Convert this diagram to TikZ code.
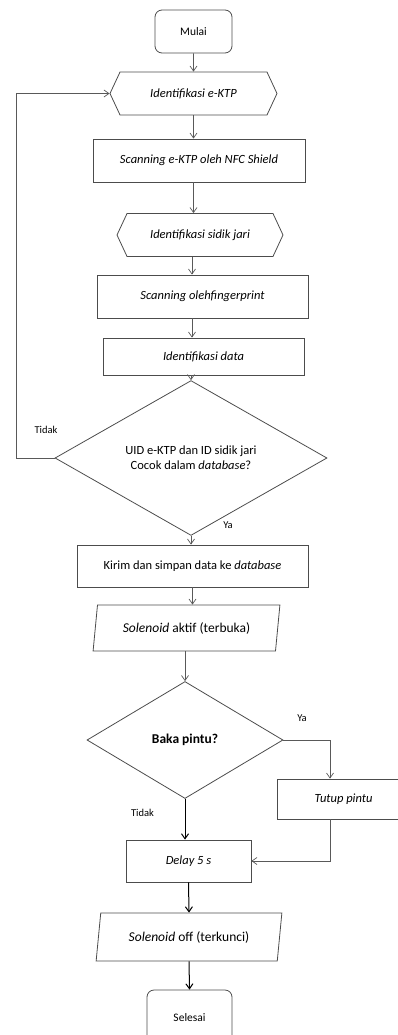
\documentclass[tikz,border=0pt]{standalone}
\usepackage{fontspec}
\setmainfont{Carlito}
\usepackage{tikz}
\usetikzlibrary{shapes,shapes.geometric,shapes.symbols,arrows.meta,positioning,calc}

\begin{document}
\begin{tikzpicture}[x=1pt,y=1pt,
  terminal/.style={rectangle, rounded corners=7pt, draw=black!70, line width=0.8pt, inner sep=0pt, align=center, font=\fontsize{11.5}{13}\selectfont},
  prep/.style={signal, signal to=east and west, signal pointer angle=130, draw=black!70, line width=0.8pt, inner sep=0pt, align=center, font=\fontsize{12.5}{14}\selectfont\itshape},
  process/.style={rectangle, draw=black!70, line width=0.8pt, inner sep=0pt, align=center, font=\fontsize{12.5}{14}\selectfont},
  decision/.style={diamond, draw=black!70, line width=0.8pt, inner sep=0pt, align=center, font=\fontsize{12.5}{15}\selectfont},
  io/.style={trapezium, trapezium left angle=75, trapezium right angle=105, trapezium stretches=true, draw=black!70, line width=0.8pt, inner sep=0pt, align=center, font=\fontsize{13.5}{15}\selectfont},
  flow/.style={-{Straight Barb[length=5pt,width=7pt]}, draw=black!65, line width=0.7pt},
  boldflow/.style={-{Straight Barb[length=5pt,width=7pt]}, draw=black, line width=1pt},
  label/.style={font=\fontsize{10.5}{12}\selectfont, inner sep=0pt}
]
\useasboundingbox (0,0) rectangle (398,-1035);
\clip (0,0) rectangle (398,-1035);

% Nodes
\node[terminal, minimum width=77, minimum height=43] (mulai) at (193.5,-31.5) {Mulai};
\node[prep, minimum width=167, minimum height=43] (idktp) at (193.5,-93.5) {Identifikasi e-KTP};
\node[process, minimum width=212, minimum height=43] (scanktp) at (199,-160.5) {\textit{Scanning e-KTP oleh NFC Shield}};
\node[prep, minimum width=166, minimum height=43] (idjari) at (200,-235) {Identifikasi sidik jari};
\node[process, minimum width=211, minimum height=43] (scanjari) at (202.5,-296.5) {\textit{Scanning olehfingerprint}};
\node[process, minimum width=201, minimum height=37] (iddata) at (203.5,-356.5) {\textit{Identifikasi data}};
\node[decision, minimum width=272, minimum height=116] (cocok) at (191,-458) {UID e-KTP dan ID sidik jari\\Cocok dalam \textit{database}?};
\node[process, minimum width=231, minimum height=42] (kirim) at (192.5,-566) {Kirim dan simpan data ke \textit{database}};
\node[io, minimum width=187, minimum height=46] (aktif) at (186.5,-628) {\textit{Solenoid} aktif (terbuka)};
\node[decision, minimum width=196, minimum height=117, font=\fontsize{13.5}{15}\selectfont\bfseries] (buka) at (185,-740) {Baka pintu?};
\node[process, minimum width=133, minimum height=40] (tutup) at (343.5,-799) {\textit{Tutup pintu}};
\node[process, minimum width=125, minimum height=42] (delay) at (188.5,-861) {\textit{Delay 5 s}};
\node[io, minimum width=186, minimum height=48] (off) at (189,-937) {\textit{Solenoid} off (terkunci)};
\node[terminal, minimum width=85, minimum height=55] (selesai) at (189.5,-1017.5) {Selesai};

% Labels
\node[label] (tidak1) at (46,-430) {Tidak};
\node[label] (ya1) at (228,-525) {Ya};
\node[label] (ya2) at (302,-718) {Ya};
\node[label] (tidak2) at (142.5,-813) {Tidak};

% Connectors
\draw[flow] (mulai) -- (idktp);
\draw[flow] (idktp.south) -- (idktp.south |- scanktp.north);
\draw[flow] (scanktp.south -| idktp.south) -- (idktp.south |- idjari.north);
\draw[flow] (idjari.south -| cocok.north) ++(1,0) -- ($(scanjari.north -| cocok.north)+(1,0)$);
\draw[flow] (scanjari.south -| cocok.north) ++(1,0) -- ($(iddata.north -| cocok.north)+(1,0)$);
\draw[flow] (iddata.south -| cocok.north) -- (cocok.north);
\draw[flow] (cocok.west) -- ++(-38,0) |- (idktp.west);
\draw[flow] (cocok.south) -- (cocok.south |- kirim.north);
\draw[flow] (kirim.south) -- (kirim.south |- aktif.north);
\draw[flow] (aktif.south -| buka.north) -- (buka.north);
\draw[flow] (buka.east) -| ([xshift=-13.5]tutup.north);
\draw[boldflow] (buka.south) -- (buka.south |- delay.north);
\draw[flow] ([xshift=-13.5]tutup.south) |- (delay.east);
\draw[boldflow] (delay.south) -- (off.north);
\draw[boldflow] (off.south) -- (selesai.north);

\end{tikzpicture}
\end{document}
